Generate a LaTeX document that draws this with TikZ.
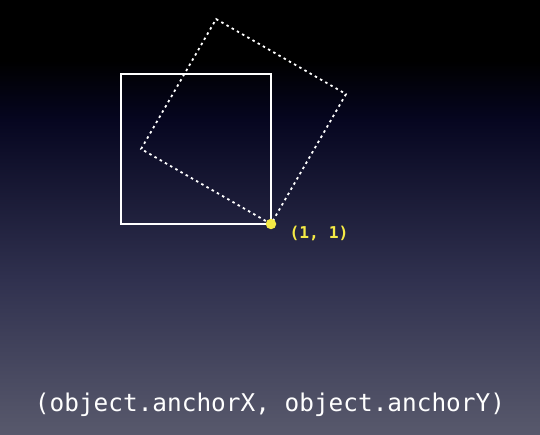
\documentclass[tikz,border=0pt]{standalone}
\usepackage{fontspec}
\setmonofont{DejaVu Sans Mono}
\definecolor{bgbot}{HTML}{58596C}
\definecolor{bglow}{HTML}{30314F}
\definecolor{bgtop}{HTML}{060620}
\definecolor{anchoryellow}{HTML}{F5EA45}
\begin{document}
\begin{tikzpicture}[x=1pt,y=1pt]
	\def\s{150}
	% background
	\fill[black] (0,374) rectangle (540,435);
	\shade[top color=black,bottom color=bgtop] (0,315) rectangle (540,374.5);
	\shade[top color=bgtop,bottom color=bglow] (0,155) rectangle (540,315.5);
	\shade[top color=bglow,bottom color=bgbot] (0,0) rectangle (540,155.5);
	\useasboundingbox (0,0) rectangle (540,435);
	\path 
	(271,211) coordinate (P)++(180:\s) coordinate (A)++(90:\s) coordinate (B)++(0:\s) coordinate (C)
	(P)++(150:\s) coordinate (A')++(60:\s) coordinate (B')++(-30:\s) coordinate (C');
	\draw[white,line width=1.3pt] (P)--(A)--(B)--(C)--cycle;
	\draw[white,line width=1.8pt,dash pattern=on 2.5pt off 3.5pt] (P)--(A')--(B')--(C')--cycle;
	\node[circle,fill=anchoryellow,inner sep=0pt,minimum size=10.5pt] (dot) at (P) {};
	\node[anchor=west,text=anchoryellow,font=\ttfamily\bfseries\fontsize{16.3}{19}\selectfont] (lbl) at (286,202) {(1, 1)};
	\node[text=white,font=\ttfamily\fontsize{24.4}{28}\selectfont] (expr) at (270,30) {(object.anchorX, object.anchorY)};
\end{tikzpicture}
\end{document}
